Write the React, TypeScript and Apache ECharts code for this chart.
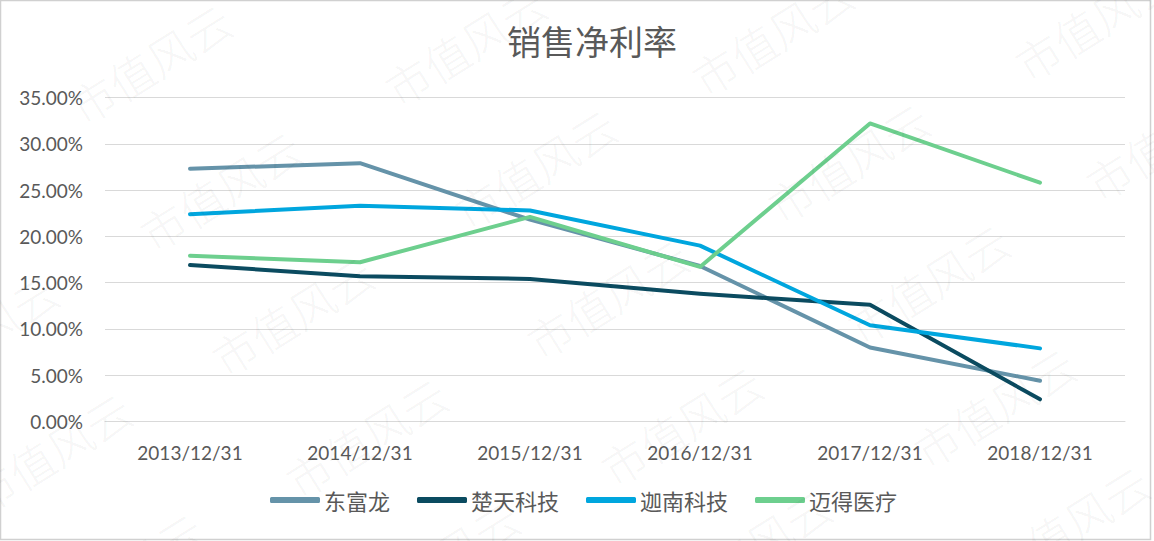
import React, { useEffect, useRef } from "react";
import * as echarts from "echarts";

const categories = ["2013/12/31", "2014/12/31", "2015/12/31", "2016/12/31", "2017/12/31", "2018/12/31"];
const dongfulong = [27.3, 27.9, 21.8, 16.8, 8.0, 4.4];
const chutian = [16.9, 15.7, 15.4, 13.8, 12.6, 2.4];
const jianan = [22.4, 23.3, 22.8, 19.0, 10.4, 7.9];
const maide = [17.9, 17.2, 22.1, 16.7, 32.2, 25.8];
const seriesNames = ["东富龙", "楚天科技", "迦南科技", "迈得医疗"];
const seriesColors = ["#6593A9", "#0B4B60", "#00A6DE", "#6DCF8E"];
const yTicks = [0, 5, 10, 15, 20, 25, 30, 35];

const watermarkPos: [number, number][] = [
  [150, 63], [465, 45], [772, 35], [1095, 20],
  [220, 190], [535, 168], [848, 162], [1166, 140],
  [-23, 333], [292, 315], [607, 298], [928, 283],
  [50, 452], [366, 437], [681, 425], [994, 407],
  [122, 572], [438, 560], [750, 548], [1068, 525],
];

export default function App() {
  const ref = useRef<HTMLDivElement>(null);
  useEffect(() => {
    if (!ref.current) return;
    const chart = echarts.init(ref.current, undefined, { renderer: "svg" });
    const data = [dongfulong, chutian, jianan, maide];
    const cjk = '"Noto Sans CJK SC", "Noto Sans", sans-serif';
    const num = 'Lato, "Noto Sans", sans-serif';
    chart.setOption({
      animation: false,
      backgroundColor: "#ffffff",
      grid: { left: 105, right: 29, top: 97.5, bottom: 119.5, containLabel: false },
      xAxis: {
        type: "category",
        data: categories,
        boundaryGap: true,
        axisLine: { show: true, lineStyle: { color: "#d9d9d9", width: 1 } },
        axisTick: { show: false },
        axisLabel: { color: "#595959", fontSize: 19, fontFamily: num, margin: 21 },
      },
      yAxis: {
        type: "value",
        min: 0,
        max: 35,
        interval: 5,
        axisLine: { show: false },
        axisTick: { show: false },
        splitLine: { lineStyle: { color: "#d9d9d9", width: 1 } },
        axisLabel: {
          color: "#595959",
          fontSize: 19,
          fontFamily: num,
          margin: 22,
          formatter: (v: number) => (yTicks.includes(v) ? v.toFixed(2) + "%" : ""),
        },
      },
      legend: {
        left: 265,
        top: 484,
        itemWidth: 50,
        itemHeight: 6,
        itemGap: 27,
        icon: "roundRect",
        textStyle: { color: "#595959", fontSize: 22, fontFamily: cjk, padding: [0, 0, 0, -1] },
        data: seriesNames,
      },
      series: seriesNames.map((name, i) => ({
        name,
        type: "line",
        data: data[i],
        symbol: "none",
        showSymbol: false,
        lineStyle: { color: seriesColors[i], width: 4, cap: "round", join: "round" },
        itemStyle: { color: seriesColors[i] },
        z: 2 + i,
      })),
      graphic: [
        {
          type: "rect",
          shape: { x: 0.5, y: 0.5, width: 1150, height: 539 },
          style: { fill: "none", stroke: "#d0d0d0", lineWidth: 1.5 },
          silent: true,
          z: 0,
        },
        {
          type: "text",
          x: 592,
          y: 40,
          style: {
            text: "销售净利率",
            fill: "#595959",
            font: `34px ${cjk}`,
            textAlign: "center",
            textVerticalAlign: "middle",
          },
          z: 10,
        },
        ...watermarkPos.map(([x, y]) => ({
          type: "text",
          x,
          y,
          rotation: (32 * Math.PI) / 180,
          silent: true,
          z: 100,
          style: {
            text: "市值风云",
            fill: "rgba(0,0,0,0.055)",
            font: `200 45px ${cjk}`,
            textAlign: "center",
            textVerticalAlign: "middle",
          },
        })),
      ],
    });
    return () => chart.dispose();
  }, []);
  return (
    <div
      ref={ref}
      style={{ position: "absolute", left: 0, top: 0, width: 1154, height: 541 }}
    />
  );
}
